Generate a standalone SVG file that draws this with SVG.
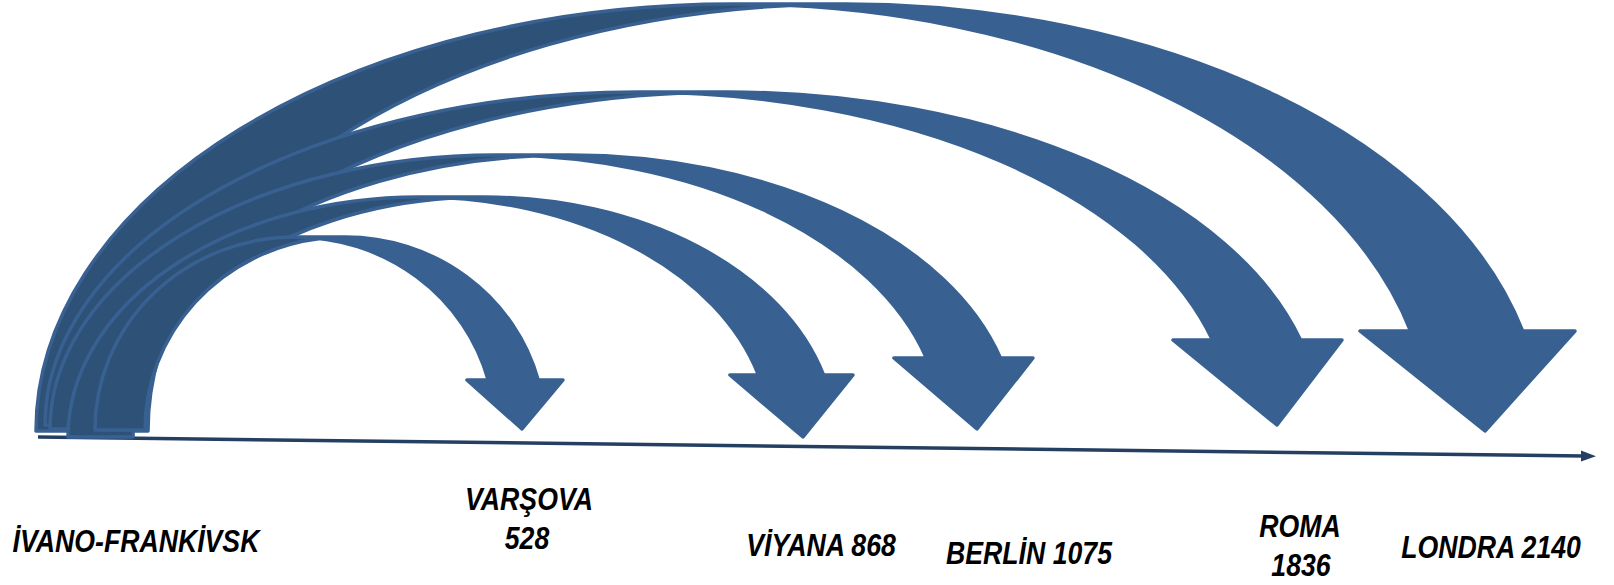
<svg xmlns="http://www.w3.org/2000/svg" width="1614" height="585" viewBox="0 0 1614 585">
  <style>
    .light { fill: #386192; stroke: none; }
    .dark { fill: #2E5178; stroke: none; }
    .outline { fill: none; stroke: #386192; stroke-width: 3.5; stroke-linejoin: round; }
    .axis { stroke: #243F62; stroke-width: 3.5; fill: none; }
    .axishead { fill: #243F62; }
    .lbl { font-family: "Liberation Sans", Arial, sans-serif; font-weight: bold; font-style: italic; font-size: 31px; fill: #000000; text-anchor: middle; }
  </style>
  <rect width="1614" height="585" fill="#FFFFFF"/>
  <g id="connectors">
    <g id="axis">
      <line class="axis" x1="38" y1="437" x2="1584" y2="456"/>
      <polygon class="axishead" points="1596,456.2 1581,450.5 1581,461.5"/>
    </g>
    <g id="arrow-londra">
      <path class="light" d="M1410.6,331 A697,427 0 0 0 733,4 L845,4 A697,427 0 0 1 1522.6,331 L1575,331 L1485,431 L1360,331 Z"/>
      <path class="dark" d="M789,5.4 A697,427 0 0 0 148,431 L36,431 A697,427 0 0 1 789,5.4 Z"/>
      <path class="outline" d="M789,5.4 A697,427 0 0 0 148,431 L36,431 A697,427 0 0 1 733,4 L845,4 A697,427 0 0 1 1522.6,331 L1575,331 L1485,431 L1360,331 L1410.6,331 A697,427 0 0 0 733,4"/>
    </g>
    <g id="arrow-roma">
      <path class="light" d="M1212.5,340 A593.6,333 0 0 0 638.6,92 L726.6,92 A593.6,333 0 0 1 1300.5,340 L1342,340 L1277,425 L1173,340 Z"/>
      <path class="dark" d="M682.6,92.9 A593.6,333 0 0 0 133,425 L45,425 A593.6,333 0 0 1 682.6,92.9 Z"/>
      <path class="outline" d="M682.6,92.9 A593.6,333 0 0 0 133,425 L45,425 A593.6,333 0 0 1 638.6,92 L726.6,92 A593.6,333 0 0 1 1300.5,340 L1342,340 L1277,425 L1173,340 L1212.5,340 A593.6,333 0 0 0 638.6,92"/>
    </g>
    <g id="arrow-berlin">
      <path class="light" d="M926.4,358 A445.8,274 0 0 0 495.8,155 L569.8,155 A445.8,274 0 0 1 1000.4,358 L1033,358 L977,429 L894,358 Z"/>
      <path class="dark" d="M532.8,155.9 A445.8,274 0 0 0 124,429 L50,429 A445.8,274 0 0 1 532.8,155.9 Z"/>
      <path class="outline" d="M532.8,155.9 A445.8,274 0 0 0 124,429 L50,429 A445.8,274 0 0 1 495.8,155 L569.8,155 A445.8,274 0 0 1 1000.4,358 L1033,358 L977,429 L894,358 L926.4,358 A445.8,274 0 0 0 495.8,155"/>
    </g>
    <g id="arrow-viyana">
      <path class="light" d="M758.5,375 A351.2,240 0 0 0 419.2,197 L484.2,197 A351.2,240 0 0 1 823.5,375 L853,375 L803,437 L730,375 Z"/>
      <path class="dark" d="M451.7,198 A351.2,240 0 0 0 133,437 L68,437 A351.2,240 0 0 1 451.7,198 Z"/>
      <path class="outline" d="M451.7,198 A351.2,240 0 0 0 133,437 L68,437 A351.2,240 0 0 1 419.2,197 L484.2,197 A351.2,240 0 0 1 823.5,375 L853,375 L803,437 L730,375 L758.5,375 A351.2,240 0 0 0 419.2,197"/>
    </g>
    <g id="arrow-varsova">
      <path class="light" d="M488.2,380 A200,193 0 0 0 295,237 L345,237 A200,193 0 0 1 538.2,380 L563,380 L522,429 L467,380 Z"/>
      <path class="dark" d="M320,238.5 A200,193 0 0 0 145,430 L95,430 A200,193 0 0 1 320,238.5 Z"/>
      <path class="outline" d="M320,238.5 A200,193 0 0 0 145,430 L95,430 A200,193 0 0 1 295,237 L345,237 A200,193 0 0 1 538.2,380 L563,380 L522,429 L467,380 L488.2,380 A200,193 0 0 0 295,237"/>
    </g>
  </g>
  <g id="node-ivano-frankivsk">
    <text class="lbl" transform="translate(136,552) scale(0.86,1)">İVANO-FRANKİVSK</text>
  </g>
  <g id="node-varsova">
    <text class="lbl" transform="translate(529,510) scale(0.86,1)">VARŞOVA</text>
    <text class="lbl" transform="translate(527,549) scale(0.86,1)">528</text>
  </g>
  <g id="node-viyana">
    <text class="lbl" transform="translate(821,556) scale(0.86,1)">VİYANA 868</text>
  </g>
  <g id="node-berlin">
    <text class="lbl" transform="translate(1029,564) scale(0.86,1)">BERLİN 1075</text>
  </g>
  <g id="node-roma">
    <text class="lbl" transform="translate(1300,537) scale(0.86,1)">ROMA</text>
    <text class="lbl" transform="translate(1301,576) scale(0.86,1)">1836</text>
  </g>
  <g id="node-londra">
    <text class="lbl" transform="translate(1491,558) scale(0.86,1)">LONDRA 2140</text>
  </g>
</svg>
